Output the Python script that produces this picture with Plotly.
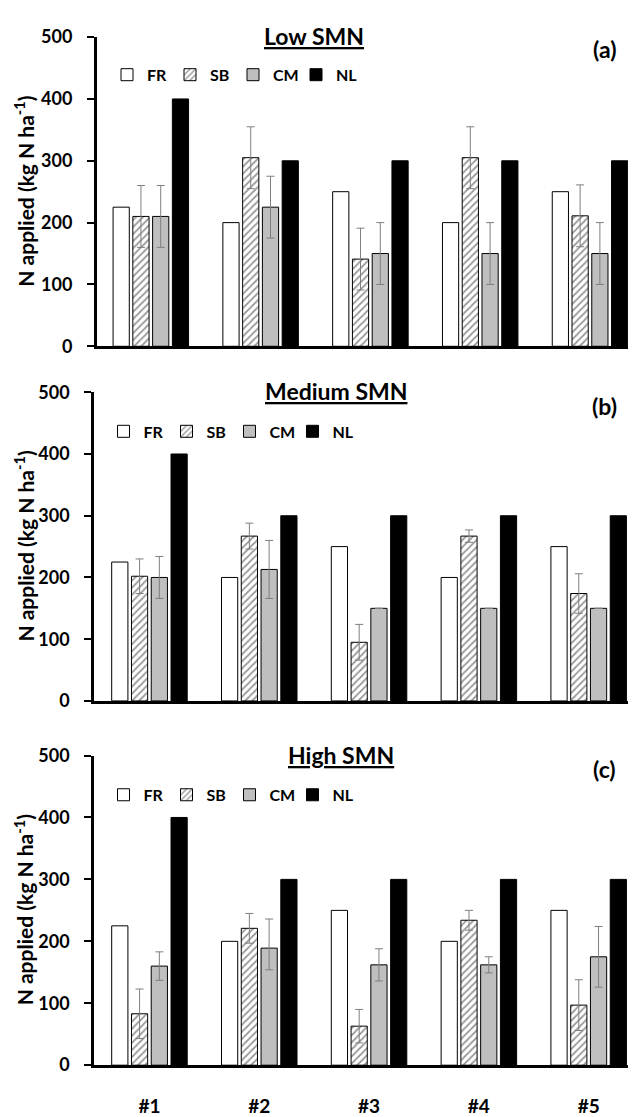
import plotly.graph_objects as go

sites = ["#1", "#2", "#3", "#4", "#5"]
series = ["FR", "SB", "CM", "NL"]
panel_titles = ["Low SMN", "Medium SMN", "High SMN"]
panel_tags = ["(a)", "(b)", "(c)"]
y_ticks = [0, 100, 200, 300, 400, 500]

# N applied (kg N ha-1)
fr = [225, 200, 250, 200, 250]
nl = [400, 300, 300, 300, 300]

sb_low = [210, 305, 141, 305, 211]
sb_low_err = [50, 50, 50, 50, 50]
cm_low = [210, 225, 150, 150, 150]
cm_low_err = [50, 50, 50, 50, 50]

sb_med = [202, 267, 95, 267, 174]
sb_med_err = [28, 21, 29, 10, 32]
cm_med = [200, 213, 150, 150, 150]
cm_med_err = [34, 47, None, None, None]

sb_high = [83, 221, 63, 234, 97]
sb_high_err = [40, 24, 27, 16, 41]
cm_high = [160, 189, 162, 162, 175]
cm_high_err_plus = [23, 47, 26, 13, 49]
cm_high_err_minus = [23, 35, 26, 13, 49]

panels = [
    dict(sb=sb_low, sbp=sb_low_err, sbm=sb_low_err, cm=cm_low, cmp=cm_low_err, cmm=cm_low_err),
    dict(sb=sb_med, sbp=sb_med_err, sbm=sb_med_err, cm=cm_med, cmp=cm_med_err, cmm=cm_med_err),
    dict(sb=sb_high, sbp=sb_high_err, sbm=sb_high_err, cm=cm_high, cmp=cm_high_err_plus, cmm=cm_high_err_minus),
]

# the page body has an 8px margin; the figure is sized so that it ends at the window edge
OFF = 8
W, H = 636 - OFF, 1117 - OFF
FONT = "Lato"

# layout geometry (page pixels)
axis_x = [96.7, 94.0, 94.0]
x_range = [[-0.493, 4.419], [-0.505, 4.431], [-0.505, 4.431]]
y_zero_px = [341.5, 704.0, 1076.3]
y_top_px = [25.5, 388.5, 759.8]
legend_y_px = [64, 428.5, 800]
legend_x_px = [107, 103.5, 103.5]
title_x_px = [314, 336, 341]
tag_y_off = [12, 14, 14]

def py(px):
    return 1 - (px - OFF) / H

def pxx(px):
    return (px - OFF) / W

fig = go.Figure()

err_color = "#7f7f7f"
line_black = dict(color="black", width=1)

for i, p in enumerate(panels):
    xa = "x" if i == 0 else f"x{i+1}"
    ya = "y" if i == 0 else f"y{i+1}"
    lg = "legend" if i == 0 else f"legend{i+1}"
    fig.add_trace(go.Bar(x=sites, y=fr, name="FR", xaxis=xa, yaxis=ya, legend=lg,
                         marker=dict(color="white", line=line_black)))
    fig.add_trace(go.Bar(x=sites, y=p["sb"], name="SB", xaxis=xa, yaxis=ya, legend=lg,
                         marker=dict(color="white", line=line_black,
                                     pattern=dict(shape="/", fgcolor="#333333", bgcolor="white",
                                                  size=5, solidity=0.35)),
                         error_y=dict(type="data", symmetric=False, array=p["sbp"], arrayminus=p["sbm"],
                                      color=err_color, thickness=1, width=4)))
    fig.add_trace(go.Bar(x=sites, y=p["cm"], name="CM", xaxis=xa, yaxis=ya, legend=lg,
                         marker=dict(color="#bfbfbf", line=line_black),
                         error_y=dict(type="data", symmetric=False, array=p["cmp"], arrayminus=p["cmm"],
                                      color=err_color, thickness=1, width=4)))
    fig.add_trace(go.Bar(x=sites, y=nl, name="NL", xaxis=xa, yaxis=ya, legend=lg,
                         marker=dict(color="black", line=line_black)))

layout = dict(
    width=W, height=H,
    margin=dict(l=0, r=0, t=0, b=0),
    paper_bgcolor="white", plot_bgcolor="white",
    font=dict(family=FONT, size=18, color="black", weight="bold"),
    barmode="group", bargap=0.28, bargroupgap=0.18,
    showlegend=True,
)

annotations = []
for i in range(3):
    sfx = "" if i == 0 else str(i + 1)
    dom_y = [py(y_zero_px[i]), py(y_top_px[i])]
    layout[f"xaxis{sfx}"] = dict(
        domain=[pxx(axis_x[i]), 1], range=x_range[i], anchor=f"y{sfx}",
        showline=True, linecolor="black", linewidth=2.5, ticks="",
        showticklabels=(i == 2), tickfont=dict(family=FONT, size=19, weight="bold"),
        ticklabelstandoff=22, showgrid=False, zeroline=False, fixedrange=True,
    )
    layout[f"yaxis{sfx}"] = dict(
        domain=dom_y, range=[0, 500], anchor=f"x{sfx}", tickvals=y_ticks,
        showline=True, linecolor="black", linewidth=2.5,
        ticks="outside", ticklen=7, tickwidth=2, tickcolor="black",
        tickfont=dict(family=FONT, size=18, weight="bold"), ticklabelstandoff=11,
        showgrid=False, zeroline=False, fixedrange=True,
    )
    # inside half of the crossing ticks
    layout[f"yaxis{i+4}"] = dict(
        overlaying=f"y{sfx}", anchor=f"x{sfx}", side="left", range=[0, 500], tickvals=y_ticks,
        ticks="inside", ticklen=5, tickwidth=2, tickcolor="black",
        showticklabels=False, showline=False, showgrid=False, zeroline=False, fixedrange=True,
    )
    lgkey = "legend" if i == 0 else f"legend{i+1}"
    layout[lgkey] = dict(
        orientation="h", x=pxx(legend_x_px[i]), xanchor="left", y=py(legend_y_px[i]), yanchor="middle",
        font=dict(family=FONT, size=16, weight="bold"), bgcolor="rgba(0,0,0,0)",
        entrywidth=18, entrywidthmode="pixels",
        borderwidth=0, itemclick=False, itemdoubleclick=False,
    )
    annotations.append(dict(
        text=panel_titles[i], xref="paper", yref="paper",
        x=pxx(title_x_px[i]), y=py(y_top_px[i] - 1), xanchor="center", yanchor="middle",
        showarrow=False, font=dict(family=FONT, size=23, weight="bold", lineposition="under"),
    ))
    annotations.append(dict(
        text=panel_tags[i], xref="paper", yref="paper",
        x=pxx(604), y=py(y_top_px[i] + tag_y_off[i]), xanchor="center", yanchor="middle",
        showarrow=False, font=dict(family=FONT, size=23, weight="bold"),
    ))
    annotations.append(dict(
        text="N applied (kg N ha<sup>-1</sup>)", xref="paper", yref="paper",
        x=pxx(24), y=py((y_zero_px[i] + y_top_px[i]) / 2), xanchor="center", yanchor="middle",
        textangle=-90, showarrow=False, font=dict(family=FONT, size=21, weight="bold"),
    ))

layout["annotations"] = annotations
fig.update_layout(**layout)

fig.write_html("out.html")
